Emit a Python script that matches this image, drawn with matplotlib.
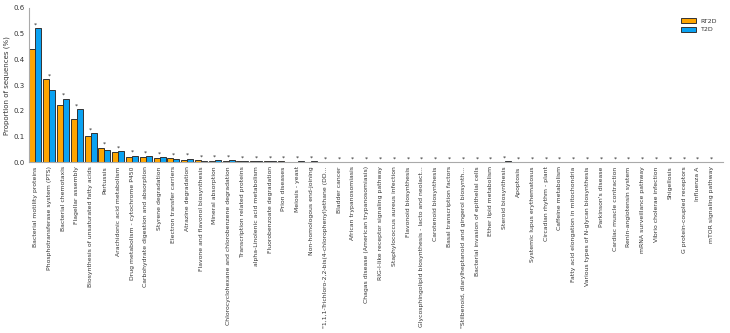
import numpy as np
import matplotlib.pyplot as plt

pathways = [
    "Bacterial motility proteins",
    "Phosphotransferase system (PTS)",
    "Bacterial chemotaxis",
    "Flagellar assembly",
    "Biosynthesis of unsaturated fatty acids",
    "Pertussis",
    "Arachidonic acid metabolism",
    "Drug metabolism - cytochrome P450",
    "Carbohydrate digestion and absorption",
    "Styrene degradation",
    "Electron transfer carriers",
    "Atrazine degradation",
    "Flavone and flavonol biosynthesis",
    "Mineral absorption",
    "Chlorocyclohexane and chlorobenzene degradation",
    "Transcription related proteins",
    "alpha-Linolenic acid metabolism",
    "Fluorobenzoate degradation",
    "Prion diseases",
    "Meiosis - yeast",
    "Non-homologous end-joining",
    "\"1,1,1-Trichloro-2,2-bis(4-chlorophenyl)ethane (DD...",
    "Bladder cancer",
    "African trypanosomiasis",
    "Chagas disease (American trypanosomiasis)",
    "RIG-I-like receptor signaling pathway",
    "Staphylococcus aureus infection",
    "Flavonoid biosynthesis",
    "Glycosphingolipid biosynthesis - lacto and neolact...",
    "Carotenoid biosynthesis",
    "Basal transcription factors",
    "\"Stilbenoid, diarylheptanoid and gingerol biosynth...",
    "Bacterial invasion of epithelial cells",
    "Ether lipid metabolism",
    "Steroid biosynthesis",
    "Apoptosis",
    "Systemic lupus erythematosus",
    "Circadian rhythm - plant",
    "Caffeine metabolism",
    "Fatty acid elongation in mitochondria",
    "Various types of N-glycan biosynthesis",
    "Parkinson's disease",
    "Cardiac muscle contraction",
    "Renin-angiotensin system",
    "mRNA surveillance pathway",
    "Vibrio cholerae infection",
    "Shigellosis",
    "G protein-coupled receptors",
    "Influenza A",
    "mTOR signaling pathway",
]

rt2d = [0.440, 0.324, 0.221, 0.168, 0.101, 0.056, 0.038, 0.021, 0.020, 0.017,
        0.016, 0.009, 0.007, 0.006, 0.006, 0.005, 0.004, 0.004, 0.003, 0.002,
        0.001, 0.0005, 0.0005, 0.0004, 0.0004, 0.0004, 0.0003, 0.0003, 0.0003, 0.0003,
        0.0002, 0.0002, 0.0002, 0.0002, 0.0002, 0.0002, 0.0002, 0.0002, 0.0001, 0.0001,
        0.0001, 0.0001, 0.0001, 0.0001, 0.0001, 0.0001, 0.0001, 0.0001, 0.0001, 0.0001]
t2d = [0.521, 0.279, 0.247, 0.206, 0.113, 0.047, 0.043, 0.025, 0.023, 0.019,
       0.013, 0.014, 0.005, 0.007, 0.007, 0.005, 0.003, 0.003, 0.002, 0.003,
       0.004, 0.0008, 0.0006, 0.0008, 0.0006, 0.0005, 0.0005, 0.0004, 0.0004, 0.0004,
       0.0004, 0.0003, 0.0003, 0.0005, 0.003, 0.0004, 0.0008, 0.0008, 0.0006, 0.0005,
       0.0003, 0.0003, 0.0002, 0.0002, 0.0002, 0.0002, 0.0002, 0.0002, 0.0002, 0.0002]

x = np.arange(len(pathways))
w = 0.43

fig = plt.figure(figsize=(7.3, 3.33), dpi=100)
ax = fig.add_axes([0.04, 0.513, 0.95, 0.463])

ax.bar(x - w / 2, rt2d, w, color="#FFA500", edgecolor="#333333", linewidth=0.7, label="RT2D")
ax.bar(x + w / 2, t2d, w, color="#0AA2F2", edgecolor="#333333", linewidth=0.7, label="T2D")

# significance marks over each pathway
for xi, a, b in zip(x, rt2d, t2d):
    ax.text(xi, max(a, b) + 0.003, "*", ha="center", va="bottom", fontsize=4.5, color="#222222")

ax.set_xlim(-0.45, 49.8)
ax.set_ylim(0, 0.6)
ax.set_xticks(x)
ax.set_xticklabels(pathways, rotation=90, fontsize=4.4, color="#333333")
ax.set_yticks(np.arange(0, 0.61, 0.1))
ax.set_yticklabels([f"{v:.1f}" for v in np.arange(0, 0.61, 0.1)], fontsize=5, color="#333333")
ax.tick_params(length=0, pad=3)
ax.set_ylabel("Proportion of sequences (%)", fontsize=5, labelpad=3, color="#333333")

for s in ["top", "right"]:
    ax.spines[s].set_visible(False)
for s in ["left", "bottom"]:
    ax.spines[s].set_color("#aaaaaa")
    ax.spines[s].set_linewidth(0.8)

ax.legend(loc="upper right", frameon=False, fontsize=4.5, handlelength=2.4, handleheight=0.8,
          labelcolor="#333333", bbox_to_anchor=(1.0, 0.97))

fig.savefig("out.png", dpi=100)
